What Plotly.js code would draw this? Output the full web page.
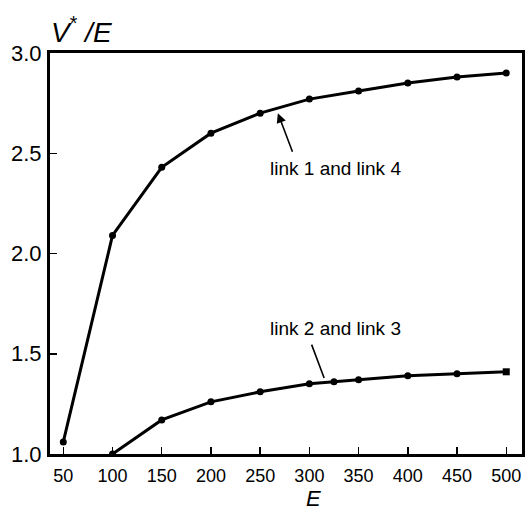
<!DOCTYPE html>
<html>
<head>
<meta charset="utf-8">
<script src="https://cdn.plot.ly/plotly-3.0.1.min.js"></script>
<style>html,body{margin:0;padding:0;background:#fff;}#chart{width:531px;height:512px;}</style>
</head>
<body>
<div id="chart"></div>
<script>
// Data
const E_upper = [50, 100, 150, 200, 250, 300, 350, 400, 450, 500];
const V_upper = [1.06, 2.09, 2.43, 2.60, 2.70, 2.77, 2.81, 2.85, 2.88, 2.90];
const E_lower = [100, 150, 200, 250, 300, 325, 350, 400, 450, 500];
const V_lower = [1.00, 1.17, 1.26, 1.31, 1.35, 1.36, 1.37, 1.39, 1.40, 1.41];
const xTicks = [50, 100, 150, 200, 250, 300, 350, 400, 450, 500];
const yTicks = [1.0, 1.5, 2.0, 2.5, 3.0];
const label1 = "link 1 and link 4";
const label2 = "link 2 and link 3";

const FONT = "Liberation Sans, Arial, Helvetica, sans-serif";

const lowerSymbols = E_lower.map((_, i) => i === E_lower.length - 1 ? "square" : "circle");

const traces = [
  {x: E_upper, y: V_upper, mode: "lines+markers", type: "scatter",
   line: {color: "#000", width: 3}, marker: {color: "#000", size: 7, symbol: "circle"},
   showlegend: false, hoverinfo: "skip"},
  {x: E_lower, y: V_lower, mode: "lines+markers", type: "scatter",
   line: {color: "#000", width: 3}, marker: {color: "#000", size: 7, symbol: lowerSymbols},
   showlegend: false, hoverinfo: "skip"}
];

const layout = {
  width: 531, height: 512,
  margin: {l: 50, r: 9, t: 53, b: 58},
  paper_bgcolor: "#fff", plot_bgcolor: "#fff",
  font: {family: FONT, size: 18, color: "#000"},
  xaxis: {
    range: [36.5, 516], tickvals: xTicks, ticktext: xTicks.map(String),
    ticks: "inside", ticklen: 7, tickwidth: 1.5, tickcolor: "#000",
    showline: true, linewidth: 3, linecolor: "#000", mirror: true,
    showgrid: false, zeroline: false,
    tickfont: {family: FONT, size: 18}, ticklabelstandoff: 3
  },
  yaxis: {
    range: [1.0, 3.0], tickvals: yTicks, ticktext: yTicks.map(v => v.toFixed(1)),
    ticks: "inside", ticklen: 7, tickwidth: 1.5, tickcolor: "#000",
    showline: true, linewidth: 3, linecolor: "#000", mirror: true,
    showgrid: false, zeroline: false,
    tickfont: {family: FONT, size: 22}, ticklabelstandoff: 1
  },
  annotations: [
    {xref: "paper", yref: "paper", x: -0.003, y: 1.0, xanchor: "left", yanchor: "bottom", yshift: 3,
     text: "<i>V</i><sup>*</sup><i> /E</i>", showarrow: false, font: {family: FONT, size: 28}},
    {xref: "paper", yref: "paper", x: 0.5576, y: 0, xanchor: "center", yanchor: "top", yshift: -31,
     borderpad: 0, text: "<i>E</i>", showarrow: false, font: {family: FONT, size: 22}},
    {xref: "x", yref: "y", x: 268, y: 2.70, ax: 283.4, ay: 2.50, axref: "x", ayref: "y",
     text: "", showarrow: true, arrowhead: 2, arrowsize: 1.2, arrowwidth: 1.6, arrowcolor: "#000"},
    {xref: "x", yref: "y", x: 327, y: 2.425, text: label1, showarrow: false,
     font: {family: FONT, size: 19}},
    {xref: "x", yref: "y", x: 315, y: 1.379, ax: 301.7, ay: 1.553, axref: "x", ayref: "y",
     text: "", showarrow: true, arrowhead: 0, arrowwidth: 1.6, arrowcolor: "#000", standoff: 0},
    {xref: "x", yref: "y", x: 327, y: 1.628, text: label2, showarrow: false,
     font: {family: FONT, size: 19}}
  ]
};

Plotly.newPlot("chart", traces, layout, {displayModeBar: false, staticPlot: true});
</script>
</body>
</html>
